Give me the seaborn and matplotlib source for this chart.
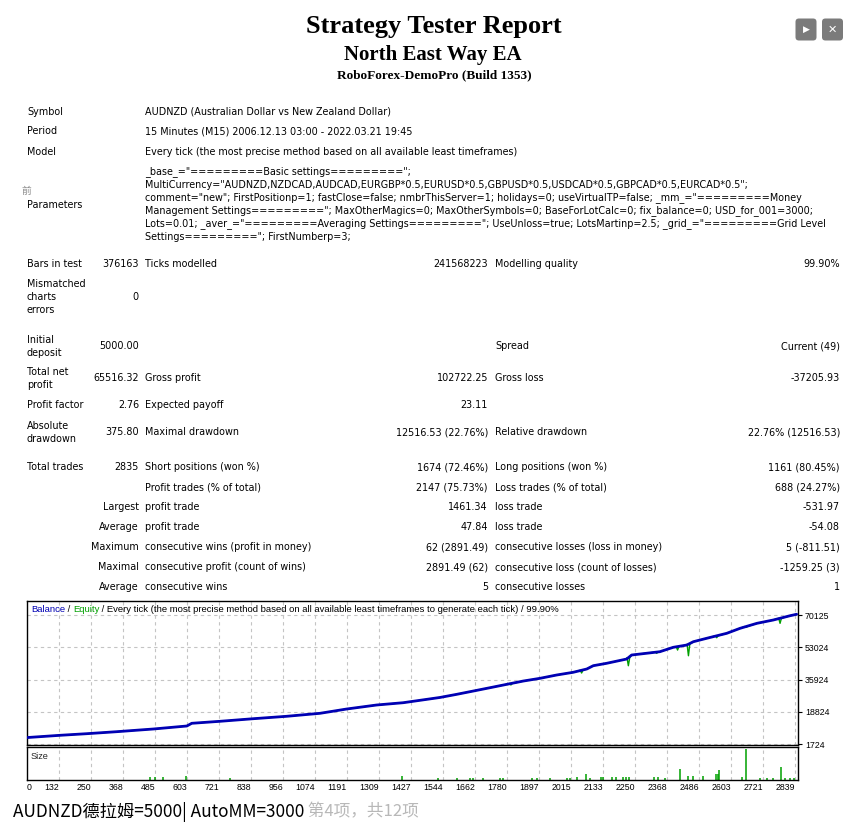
import numpy as np
import matplotlib
matplotlib.use("Agg")
import matplotlib.pyplot as plt
import seaborn as sns
import pandas as pd
from matplotlib.patches import FancyBboxPatch

# ---------------- data ----------------
bal_trade = [0, 136, 234, 344, 479, 602, 620, 724, 847, 969, 1092, 1190, 1300, 1398,
             1533, 1595, 1656, 1717, 1779, 1840, 1901, 1962, 2023, 2073, 2097, 2146,
             2220, 2238, 2342, 2391, 2441, 2465, 2514, 2588, 2637, 2699, 2759, 2821, 2845]
bal_value = [5000, 6340, 7190, 8250, 9680, 11270, 12700, 13760, 15140, 16410, 18000, 20280,
             22400, 23620, 26400, 28070, 29820, 31570, 33370, 35120, 36550, 38300, 39740,
             41490, 43240, 44510, 46790, 48910, 50660, 52990, 54210, 55960, 57770, 60420,
             63070, 65720, 67470, 69750, 70516]

dip_trade = [1794, 2054, 2226, 2330, 2407, 2447, 2551, 2659, 2784]
dip_low = [33000, 39350, 43220, 49800, 51540, 48520, 58070, 63570, 65700]

size_trade = [467, 485, 515, 598, 761, 1394, 1526, 1597, 1644, 1656, 1693, 1754, 1766, 1870,
              1889, 1938, 1999, 2011, 2036, 2069, 2085, 2124, 2132, 2167, 2179, 2205, 2217,
              2230, 2322, 2334, 2361, 2416, 2447, 2465, 2502, 2549, 2555, 2561, 2643, 2659,
              2710, 2735, 2758, 2787, 2802, 2820, 2835]
size_lots = [0.03, 0.03, 0.027, 0.04, 0.017, 0.04, 0.023, 0.023, 0.023, 0.023, 0.023, 0.023,
             0.023, 0.023, 0.023, 0.023, 0.023, 0.023, 0.033, 0.06, 0.023, 0.033, 0.033, 0.033,
             0.033, 0.033, 0.033, 0.033, 0.033, 0.033, 0.023, 0.107, 0.043, 0.04, 0.04, 0.057,
             0.057, 0.10, 0.033, 0.31, 0.02, 0.02, 0.02, 0.13, 0.02, 0.02, 0.02]

x_tick_values = [0, 132, 250, 368, 485, 603, 721, 838, 956, 1074, 1191, 1309, 1427, 1544,
                 1662, 1780, 1897, 2015, 2133, 2250, 2368, 2486, 2603, 2721, 2839]
y_tick_values = [1724, 18824, 35924, 53024, 70125]

info_rows = [
    ("Symbol", "AUDNZD (Australian Dollar vs New Zealand Dollar)"),
    ("Period", "15 Minutes (M15) 2006.12.13 03:00 - 2022.03.21 19:45"),
    ("Model", "Every tick (the most precise method based on all available least timeframes)"),
]
param_lines = [
    '_base_="=========Basic settings=========";',
    'MultiCurrency="AUDNZD,NZDCAD,AUDCAD,EURGBP*0.5,EURUSD*0.5,GBPUSD*0.5,USDCAD*0.5,GBPCAD*0.5,EURCAD*0.5";',
    'comment="new"; FirstPositionp=1; fastClose=false; nmbrThisServer=1; holidays=0; useVirtualTP=false; _mm_="=========Money',
    'Management Settings========="; MaxOtherMagics=0; MaxOtherSymbols=0; BaseForLotCalc=0; fix_balance=0; USD_for_001=3000;',
    'Lots=0.01; _aver_="=========Averaging Settings========="; UseUnloss=true; LotsMartinp=2.5; _grid_="=========Grid Level',
    'Settings========="; FirstNumberp=3;',
]
# (label, label_right_aligned, value, label2, value2, label3, value3)
stat_rows = [
    ("Bars in test", False, "376163", "Ticks modelled", "241568223", "Modelling quality", "99.90%"),
    ("Mismatched\ncharts\nerrors", False, "0", "", "", "", ""),
    ("Initial\ndeposit", False, "5000.00", "", "", "Spread", "Current (49)"),
    ("Total net\nprofit", False, "65516.32", "Gross profit", "102722.25", "Gross loss", "-37205.93"),
    ("Profit factor", False, "2.76", "Expected payoff", "23.11", "", ""),
    ("Absolute\ndrawdown", False, "375.80", "Maximal drawdown", "12516.53 (22.76%)", "Relative drawdown", "22.76% (12516.53)"),
    ("Total trades", False, "2835", "Short positions (won %)", "1674 (72.46%)", "Long positions (won %)", "1161 (80.45%)"),
    ("", False, "", "Profit trades (% of total)", "2147 (75.73%)", "Loss trades (% of total)", "688 (24.27%)"),
    ("Largest", True, "", "profit trade", "1461.34", "loss trade", "-531.97"),
    ("Average", True, "", "profit trade", "47.84", "loss trade", "-54.08"),
    ("Maximum", True, "", "consecutive wins (profit in money)", "62 (2891.49)", "consecutive losses (loss in money)", "5 (-811.51)"),
    ("Maximal", True, "", "consecutive profit (count of wins)", "2891.49 (62)", "consecutive loss (count of losses)", "-1259.25 (3)"),
    ("Average", True, "", "consecutive wins", "5", "consecutive losses", "1"),
]
stat_y = [264, 297, 346, 378, 405, 432, 467, 487, 507, 527, 547, 567, 587]

# ---------------- figure ----------------
sns.set_theme(style="white")
plt.rcParams['font.family'] = ['DejaVu Sans']

W, H = 862, 838
fig = plt.figure(figsize=(W / 100, H / 100), dpi=100)
fig.patch.set_facecolor('white')
FS = 6.9


def T(x, y, s, ha='left', size=FS, color='black', **kw):
    return fig.text(x / W, 1 - y / H, s, ha=ha, va='center', fontsize=size, color=color, **kw)


def TM(x, y, s, ha='left', step=13):
    lines = s.split("\n")
    n = len(lines)
    for i, ln in enumerate(lines):
        T(x, y + (i - (n - 1) / 2) * step, ln, ha=ha)


# titles
T(434, 27, "Strategy Tester Report", ha='center', size=19, family='Liberation Serif', weight='bold')
T(433, 55, "North East Way EA", ha='center', size=15, family='Liberation Serif', weight='bold')
T(434, 75, "RoboForex-DemoPro (Build 1353)", ha='center', size=9.5, family='Liberation Serif', weight='bold')

# buttons
for cx, glyph in [(806, '\u25B6'), (832.5, '\u2715')]:
    fig.patches.append(FancyBboxPatch(((cx - 10.5) / W, 1 - 40.5 / H), 21 / W, 22 / H,
                                      boxstyle='round,pad=0,rounding_size=0.004',
                                      transform=fig.transFigure, fc='#7b7b7b', ec='none'))
    fig.text(cx / W, 1 - 29.5 / H, glyph, color='white', ha='center', va='center',
             fontsize=6.5 if glyph == '\u25B6' else 8, family='DejaVu Sans', weight='bold')

# info rows
for (lab, val), y in zip(info_rows, [112, 131, 152]):
    T(27, y, lab)
    T(145, y, val)
for i, ln in enumerate(param_lines):
    T(145, 172 + 13 * i, ln)
T(27, 205, "Parameters")
T(22, 191, "前", color='#888888', size=7, family=['Noto Sans CJK SC', 'DejaVu Sans'])

for row, y in zip(stat_rows, stat_y):
    l1, right, v1, l2, v2, l3, v3 = row
    if l1:
        if right:
            TM(139, y, l1, ha='right')
        else:
            TM(27, y, l1)
    if v1:
        T(139, y, v1, ha='right')
    if l2:
        T(145, y, l2)
    if v2:
        T(488, y, v2, ha='right')
    if l3:
        T(495, y, l3)
    if v3:
        T(840, y, v3, ha='right')

# ---------------- chart ----------------
CF = ['Liberation Sans', 'DejaVu Sans']
x_lo, x_hi = 14, 2850
ax = fig.add_axes([27 / W, 1 - 745 / H, (798 - 27) / W, (745 - 601) / H])
ax2 = fig.add_axes([27 / W, 1 - 780 / H, (798 - 27) / W, (780 - 747) / H])

bal_df = pd.DataFrame({"trade": bal_trade, "value": bal_value})
# equity: balance with drawdown spikes
eq_t, eq_v = list(bal_trade), list(bal_value)
for t, low in zip(dip_trade, dip_low):
    b = float(np.interp(t, bal_trade, bal_value))
    eq_t += [t - 5, t, t + 5]
    eq_v += [b, low, b]
eq_df = pd.DataFrame({"trade": eq_t, "value": eq_v}).sort_values("trade")

grid_kw = dict(color='#c4c4c4', lw=0.8, ls=(0, (3, 3)))
for a in (ax, ax2):
    a.set_facecolor('white')
    a.set_xlim(x_lo, x_hi)
    for v in x_tick_values[1:]:
        a.axvline(v, zorder=0, **grid_kw)
    for s in a.spines.values():
        s.set_visible(True)
        s.set_color('black')
        s.set_linewidth(1.0)

for v in y_tick_values:
    ax.axhline(v, zorder=0, **grid_kw)

ax.plot(eq_df["trade"], eq_df["value"], color='#00a000', lw=1.0, zorder=2)
sns.lineplot(data=bal_df, x="trade", y="value", ax=ax, color='#0000b4', lw=2.0, zorder=3,
             estimator=None, sort=False)
ax.set_ylim(1194, 77550)
ax.set_xlabel("")
ax.set_ylabel("")
ax.set_xticks([])
ax.yaxis.tick_right()
ax.set_yticks(y_tick_values)
ax.set_yticklabels([str(v) for v in y_tick_values], family=CF)
ax.tick_params(axis='y', length=3, width=0.8, pad=2, labelsize=6.3, colors='black', right=True)

# legend text line
parts = [("Balance", '#0000b4'), (" / ", 'black'), ("Equity", '#00a000'),
         (" / Every tick (the most precise method based on all available least timeframes to generate each tick) / 99.90%", 'black')]
txt = ax.text(4 / 771, 1 - 8 / 144, parts[0][0], transform=ax.transAxes, color=parts[0][1],
              fontsize=6.8, va='center', ha='left', family=CF)
for s, c in parts[1:]:
    txt = ax.annotate(s, xy=(1, 0), xycoords=txt, xytext=(0, 0), textcoords='offset points',
                      va='bottom', ha='left', color=c, fontsize=6.8, family=CF)

# size panel
ax2.vlines(size_trade, 0, size_lots, color='#00a000', lw=1.1)
ax2.set_ylim(0, 0.33)
ax2.set_yticks([])
ax2.text(4 / 771, 1 - 9 / 33, "Size", transform=ax2.transAxes, fontsize=6.6, va='center',
         ha='left', family=CF)
tick_pos = [max(v, x_lo) for v in x_tick_values]
ax2.set_xticks(tick_pos)
ax2.set_xticklabels([str(v) for v in x_tick_values], fontsize=6.3, family=CF)
for i, lab in enumerate(ax2.get_xticklabels()):
    lab.set_ha('left' if i == 0 else 'right')
ax2.tick_params(axis='x', length=0, pad=2, colors='black')

# caption
cap = T(13, 812, "AUDNZD德拉姆=5000| AutoMM=3000", size=12.4,
        family=['Noto Sans CJK SC', 'DejaVu Sans'])
ann = plt.annotate(" 第4项，共12项", xy=(1, 0.5), xycoords=cap, xytext=(0, 0), textcoords='offset points',
                   va='center', ha='left', color='#b8b8b8', fontsize=12,
                   family=['Noto Sans CJK SC', 'DejaVu Sans'], annotation_clip=False)

fig.savefig("out.png", dpi=100, facecolor='white')
